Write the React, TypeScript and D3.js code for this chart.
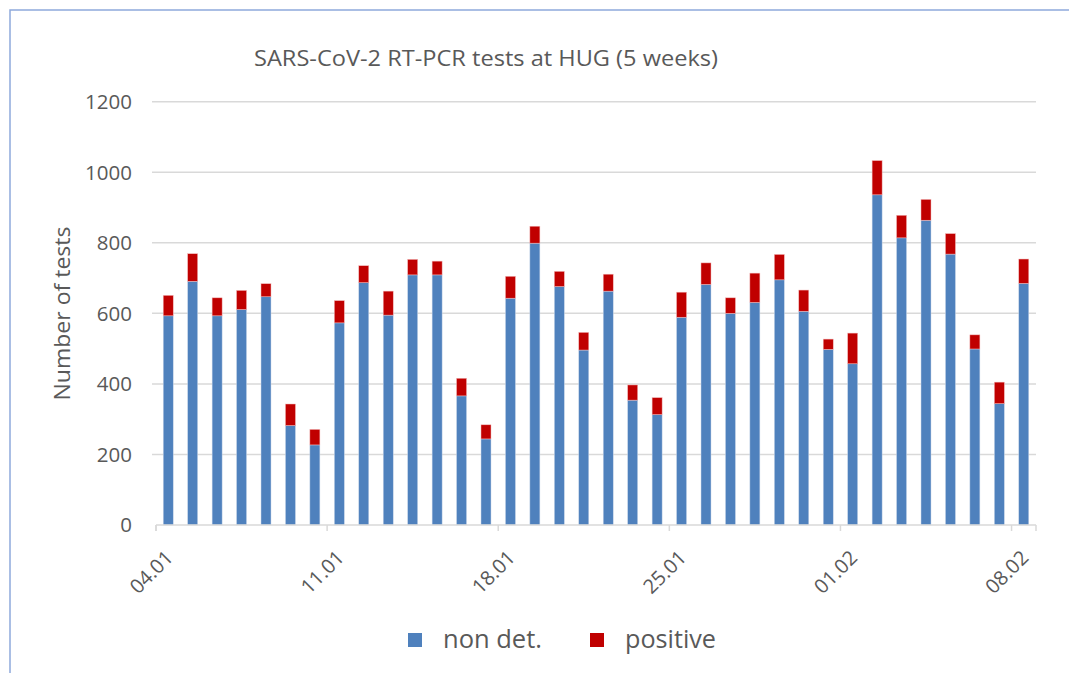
import React from "react";
import * as d3 from "d3";

const dates = [
  "04.01","05.01","06.01","07.01","08.01","09.01","10.01",
  "11.01","12.01","13.01","14.01","15.01","16.01","17.01",
  "18.01","19.01","20.01","21.01","22.01","23.01","24.01",
  "25.01","26.01","27.01","28.01","29.01","30.01","31.01",
  "01.02","02.02","03.02","04.02","05.02","06.02","07.02",
  "08.02",
];
const nonDet = [
  593, 691, 593, 611, 647, 282, 227,
  573, 687, 595, 709, 709, 366, 244,
  643, 799, 676, 496, 663, 354, 313,
  589, 682, 600, 631, 695, 606, 498,
  457, 936, 814, 864, 768, 499, 344,
  685,
];
const positive = [
  58, 78, 51, 54, 37, 61, 44,
  63, 48, 68, 44, 39, 50, 40,
  62, 48, 43, 50, 48, 43, 48,
  71, 61, 44, 83, 72, 60, 29,
  87, 97, 64, 59, 58, 40, 61,
  69,
];
const yTicks = [0, 200, 400, 600, 800, 1000, 1200];
const labelEvery = 7;
const seriesNames = ["non det.", "positive"];
const seriesColors = ["#4F81BD", "#C00000"];

export default function App() {
  const W = 1069, H = 673;
  const left = 156, right = 1036, top = 101.7, bottom = 525;
  const x = d3.scaleBand<string>().domain(dates).range([left, right]).paddingInner(0.6).paddingOuter(0.3);
  const y = d3.scaleLinear().domain([0, 1200]).range([bottom, top]);
  const font = "'Open Sans', sans-serif";
  const textColor = "#595959";
  const bandW = (right - left) / dates.length;
  const bandLeft = (i: number) => left + i * bandW;

  return (
    <svg width={W} height={H} style={{ position: "absolute", left: 0, top: 0, background: "#fff" }}>
      <rect x={10} y={10} width={W + 20} height={H + 20} fill="none" stroke="#8EA9DB" strokeWidth={1.5} />
      <text x={486} y={66} textAnchor="middle" fontFamily={font} fontSize={21.5} fill={textColor}
        textLength={464} lengthAdjust="spacingAndGlyphs">
        SARS-CoV-2 RT-PCR tests at HUG (5 weeks)
      </text>
      {yTicks.map((t) => (
        <g key={t}>
          {t > 0 && <line x1={left - 4} x2={right} y1={y(t)} y2={y(t)} stroke="#D9D9D9" strokeWidth={1.5} />}
          <text x={132} y={y(t)} dy="0.36em" textAnchor="end" fontFamily={font} fontSize={20.5} fill={textColor}>
            {t}
          </text>
        </g>
      ))}
      <text
        transform={`translate(70,313.5) rotate(-90)`}
        textAnchor="middle"
        fontFamily={font}
        fontSize={22.5}
        fill={textColor}
        textLength={174}
        lengthAdjust="spacingAndGlyphs"
      >
        Number of tests
      </text>
      {dates.map((d, i) => {
        const cx = (x(d) as number) + x.bandwidth() / 2;
        const w = 10;
        const b = nonDet[i];
        const p = positive[i];
        return (
          <g key={d}>
            <rect x={cx - w / 2} y={y(b)} width={w} height={y(0) - y(b)} fill={seriesColors[0]} stroke="#C9D7EA" strokeWidth={0.5} />
            <rect x={cx - w / 2} y={y(b + p)} width={w} height={y(b) - y(b + p)} fill={seriesColors[1]} stroke="#F2B8B8" strokeWidth={0.5} />
          </g>
        );
      })}
      <line x1={left} x2={right} y1={bottom} y2={bottom} stroke="#D9D9D9" strokeWidth={1.5} />
      {dates.map((d, i) =>
        i % labelEvery === 0 ? (
          <g key={"t" + d}>
            <line x1={bandLeft(i)} x2={bandLeft(i)} y1={bottom} y2={bottom + 6} stroke="#D9D9D9" strokeWidth={1.5} />
            <text
              transform={`translate(${bandLeft(i) + bandW / 2 + 6},${bottom + 34}) rotate(-45)`}
              textAnchor="end"
              fontFamily={font}
              fontSize={20}
              fill={textColor}
            >
              {d}
            </text>
          </g>
        ) : null
      )}
      <line x1={left} x2={left} y1={bottom} y2={bottom + 6} stroke="#D9D9D9" strokeWidth={1.5} />
      <line x1={right} x2={right} y1={bottom} y2={bottom + 6} stroke="#D9D9D9" strokeWidth={1.5} />
      {seriesNames.map((n, k) => {
        const lx = [408, 590][k];
        const tw = [99, 91][k];
        return (
          <g key={n}>
            <rect x={lx} y={633} width={14} height={14} fill={seriesColors[k]} />
            <text x={lx + 35} y={648} fontFamily={font} fontSize={25} fill={textColor}
              textLength={tw} lengthAdjust="spacingAndGlyphs">
              {n}
            </text>
          </g>
        );
      })}
    </svg>
  );
}
